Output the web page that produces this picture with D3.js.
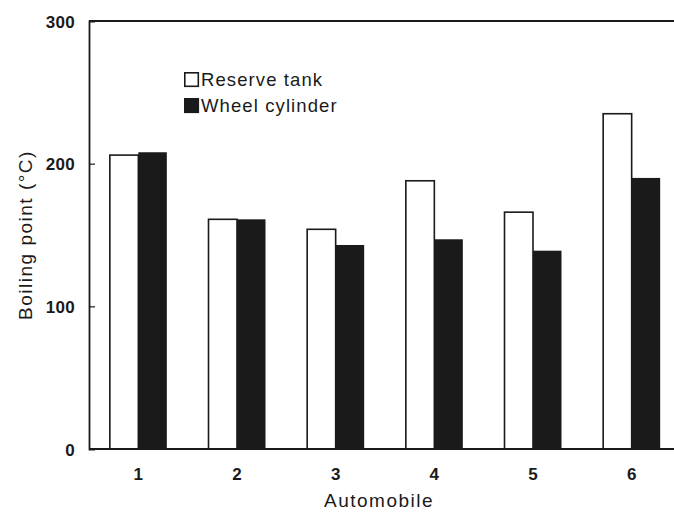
<!DOCTYPE html>
<html>
<head>
<meta charset="utf-8">
<script src="https://cdn.jsdelivr.net/npm/d3@7"></script>
<style>
  html, body { margin: 0; padding: 0; background: #fff; }
  svg { display: block; }
  text { font-family: "Liberation Sans", Arial, sans-serif; fill: #1a1a1a; }
</style>
</head>
<body>
<svg id="chart" width="674" height="512"></svg>
<script>
// Boiling point of brake fluid sampled from two locations in six automobiles
const categories = ["1", "2", "3", "4", "5", "6"];
const seriesNames = ["Reserve tank", "Wheel cylinder"];
const reserveTank = [206, 161, 154, 188, 166, 235];
const wheelCylinder = [208, 161, 143, 147, 139, 190];
const yTicks = [0, 100, 200, 300];

const svg = d3.select("#chart");
const ink = "#1a1a1a";

const plot = { left: 89, right: 681, top: 21, bottom: 449 };

const x = d3.scaleBand().domain(categories).range([plot.left, plot.right]).padding(0);
const bw = x.bandwidth();
const x1 = d3.scaleBand().domain(seriesNames).range([bw / 2 - 28.5, bw / 2 + 28.5]).padding(0);
const y = d3.scaleLinear().domain([0, 300]).range([plot.bottom, plot.top]);

const rows = categories.map((c, i) => ({ c, vals: [reserveTank[i], wheelCylinder[i]] }));

// bars
const g = svg.append("g");
const groups = g.selectAll("g.grp").data(rows).join("g")
  .attr("class", "grp")
  .attr("transform", d => `translate(${x(d.c)},0)`);

groups.selectAll("rect").data(d => d.vals.map((v, k) => ({ name: seriesNames[k], v })))
  .join("rect")
  .attr("x", d => x1(d.name))
  .attr("width", x1.bandwidth())
  .attr("y", d => y(d.v))
  .attr("height", d => y(0) - y(d.v))
  .attr("fill", d => d.name === seriesNames[0] ? "#fff" : ink)
  .attr("stroke", d => d.name === seriesNames[0] ? ink : "none")
  .attr("stroke-width", 1.6);

// frame
svg.append("line").attr("x1", plot.left).attr("x2", plot.right)
  .attr("y1", plot.top).attr("y2", plot.top).attr("stroke", ink).attr("stroke-width", 2);
svg.append("line").attr("x1", plot.left).attr("x2", plot.right)
  .attr("y1", plot.bottom).attr("y2", plot.bottom).attr("stroke", ink).attr("stroke-width", 1.8);

// y axis with inward ticks
const yAxis = d3.axisLeft(y).tickValues(yTicks).tickSize(-6).tickPadding(14).tickFormat(d3.format("d"));
const ya = svg.append("g").attr("transform", `translate(${plot.left},0)`).call(yAxis);
ya.select(".domain").attr("stroke", ink).attr("stroke-width", 1.8);
ya.selectAll(".tick line").attr("stroke", ink).attr("stroke-width", 1.2)
  .filter(d => d === 0 || d === 300).remove();
ya.selectAll(".tick text")
  .attr("font-size", 17).attr("font-weight", "bold").attr("letter-spacing", 0.3)
  .attr("font-family", "'Liberation Sans', Arial, sans-serif").attr("fill", ink)
  .attr("dy", "0.36em");

// x axis labels
const xAxis = d3.axisBottom(x).tickSize(0).tickPadding(19);
const xa = svg.append("g").attr("transform", `translate(0,${plot.bottom})`).call(xAxis);
xa.select(".domain").remove();
xa.selectAll(".tick text")
  .attr("font-size", 17).attr("font-weight", "bold")
  .attr("font-family", "'Liberation Sans', Arial, sans-serif").attr("fill", ink);

// axis titles
svg.append("text")
  .attr("transform", "translate(32,235) rotate(-90)")
  .attr("text-anchor", "middle")
  .attr("font-size", 19).attr("letter-spacing", 1.5)
  .text("Boiling point (°C)");

svg.append("text")
  .attr("x", 379).attr("y", 507)
  .attr("text-anchor", "middle")
  .attr("font-size", 19).attr("letter-spacing", 1.5)
  .text("Automobile");

// legend
const legend = svg.append("g").attr("transform", "translate(184,72)");
const li = legend.selectAll("g").data(seriesNames).join("g")
  .attr("transform", (d, i) => `translate(0,${i * 26})`);
li.append("rect")
  .attr("x", 0.8).attr("y", 0.8).attr("width", 13.5).attr("height", 13.5)
  .attr("fill", (d, i) => i === 0 ? "#fff" : ink)
  .attr("stroke", ink).attr("stroke-width", 1.6);
li.append("text")
  .attr("x", 17).attr("y", 14)
  .attr("font-size", 18.5).attr("letter-spacing", 1.1)
  .text(d => d);
</script>
</body>
</html>
